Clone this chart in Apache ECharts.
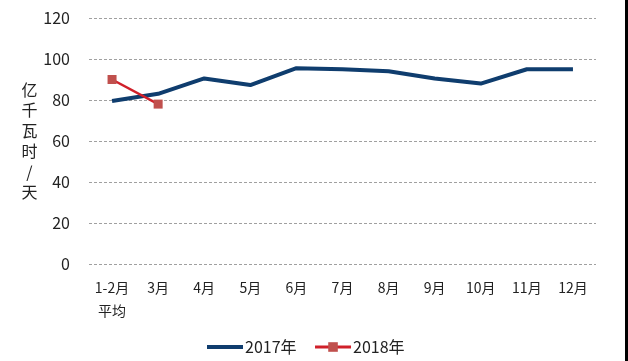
<!DOCTYPE html>
<html>
<head>
<meta charset="utf-8">
<script src="https://cdn.jsdelivr.net/npm/echarts@6/dist/echarts.min.js"></script>
<style>html,body{margin:0;padding:0;background:#fff;}#c{width:628px;height:361px;}</style>
</head>
<body>
<div id="c"></div>
<script>
var categories = ['1-2月\n平均', '3月', '4月', '5月', '6月', '7月', '8月', '9月', '10月', '11月', '12月'];
var values2017 = [79.5, 83, 90.5, 87.3, 95.5, 95, 94, 90.5, 88, 95, 95];
var values2018 = [90, 78];
var yTicks = [0, 20, 40, 60, 80, 100, 120];
var yName = '亿\n千\n瓦\n时\n/\n天';

var font = 'Noto Sans CJK SC';
var chart = echarts.init(document.getElementById('c'), null, {renderer: 'canvas'});
chart.setOption({
  backgroundColor: '#ffffff',
  animation: false,
  textStyle: {fontFamily: font},
  grid: {left: 89, right: 32, top: 18, bottom: 97},
  legend: {
    left: 200, top: 334,
    itemWidth: 36, itemHeight: 12, itemGap: 17,
    textStyle: {fontFamily: font, fontSize: 16, color: '#222', padding: [0, 0, 0, -3]},
    data: [
      {name: '2017年', itemStyle: {opacity: 0}, lineStyle: {width: 4}},
      {name: '2018年', lineStyle: {width: 3}}
    ]
  },
  xAxis: {
    type: 'category',
    data: categories,
    boundaryGap: true,
    axisLine: {show: false},
    axisTick: {show: false},
    axisLabel: {interval: 0, fontSize: 14, color: '#222', margin: 12, lineHeight: 23, fontFamily: font}
  },
  yAxis: {
    type: 'value',
    min: yTicks[0], max: yTicks[yTicks.length - 1], interval: 20,
    name: yName,
    nameLocation: 'middle',
    nameRotate: 0,
    nameGap: 55,
    nameTextStyle: {fontSize: 16, color: '#222', lineHeight: 20.5, fontFamily: font, align: 'center'},
    axisLine: {show: false},
    axisTick: {show: false},
    axisLabel: {fontSize: 16, color: '#222', margin: 19, fontFamily: font},
    splitLine: {lineStyle: {color: '#a0a0a0', type: [3, 2], width: 1}}
  },
  series: [
    {
      name: '2017年', type: 'line', data: values2017,
      symbol: 'none',
      lineStyle: {color: '#0f3d6e', width: 4},
      itemStyle: {color: '#0f3d6e'}
    },
    {
      name: '2018年', type: 'line', data: values2018,
      symbol: 'rect', symbolSize: 9,
      lineStyle: {color: '#d0202a', width: 2.5},
      itemStyle: {color: '#c0504d'}
    }
  ],
  graphic: [
    {type: 'rect', shape: {x: 625, y: 0, width: 3, height: 361}, style: {fill: '#000'}}
  ]
});
</script>
</body>
</html>
